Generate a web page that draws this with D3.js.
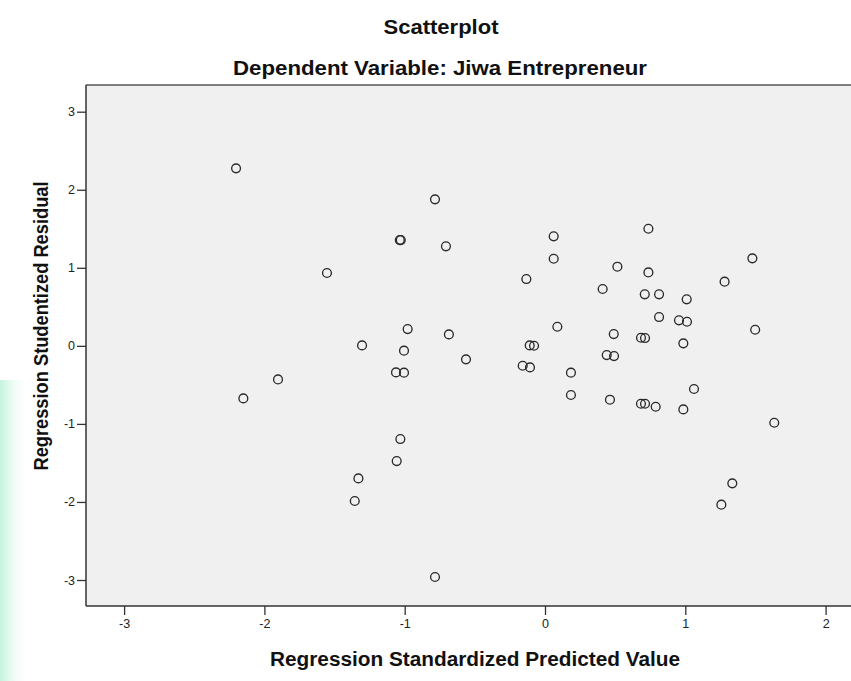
<!DOCTYPE html>
<html><head><meta charset="utf-8">
<script src="https://cdn.jsdelivr.net/npm/d3@7"></script>
<style>body{margin:0;background:#fff;}svg{display:block;font-family:"Liberation Sans",Arial,sans-serif;}</style>
</head><body>
<svg id="c" width="851" height="681"></svg>
<script>
const xValues = [-2.202,-0.784,-1.035,-1.028,-0.706,-1.554,-0.979,-0.685,-1.304,-1.005,-0.563,-1.062,-1.005,-1.903,
  -2.150,-1.031,-1.057,-1.330,-1.356,-0.784,
  0.062,0.737,0.062,1.478,0.516,0.737,-0.133,1.280,0.411,0.711,0.813,1.010,0.813,0.955,1.012,0.088,1.498,
  0.490,0.684,0.713,0.986,-0.109,-0.078,-0.159,-0.107,0.440,0.492,0.185,0.185,0.463,0.684,0.713,0.789,0.986,1.062,1.634,
  1.335,1.257];
const yValues = [2.274,1.877,1.355,1.355,1.275,0.933,0.215,0.147,0.006,-0.062,-0.173,-0.340,-0.344,-0.430,
  -0.673,-1.194,-1.476,-1.698,-1.988,-2.962,
  1.403,1.500,1.116,1.121,1.014,0.941,0.856,0.822,0.728,0.660,0.660,0.596,0.369,0.327,0.309,0.245,0.206,
  0.151,0.104,0.100,0.032,0.006,0.001,-0.255,-0.276,-0.118,-0.131,-0.344,-0.630,-0.690,-0.742,-0.742,-0.780,-0.814,-0.553,-0.985,
  -1.762,-2.035];
const xTicks = [-3,-2,-1,0,1,2];
const yTicks = [-3,-2,-1,0,1,2,3];
const title = "Scatterplot";
const subtitle = "Dependent Variable: Jiwa Entrepreneur";
const xTitle = "Regression Standardized Predicted Value";
const yTitle = "Regression Studentized Residual";

const svg = d3.select("#c");
const L = 86, T = 85, B = 606, R = 853;
const x = d3.scaleLinear().domain([-3, 2]).range([545 - 3*140.3, 545 + 2*140.3]);
const y = d3.scaleLinear().domain([-3, 3]).range([580, 111.7]);

const defs = svg.append("defs");
const grad = defs.append("linearGradient").attr("id","wm").attr("x1",0).attr("x2",1);
grad.append("stop").attr("offset","0%").attr("stop-color","#c4f3dc");
grad.append("stop").attr("offset","100%").attr("stop-color","#ffffff").attr("stop-opacity",0);
svg.append("rect").attr("x",0).attr("y",380).attr("width",30).attr("height",301).attr("fill","url(#wm)");

svg.append("rect").attr("x",L).attr("y",T).attr("width",R-L).attr("height",B-T).attr("fill","#f0f0f0");
svg.append("line").attr("x1",L).attr("x2",R).attr("y1",T).attr("y2",T).attr("stroke","#555").attr("stroke-width",1.5);

const fmt = d => String(d);
const gx = svg.append("g").attr("transform",`translate(0,${B})`)
  .call(d3.axisBottom(x).tickValues(xTicks).tickSize(9).tickPadding(4).tickFormat(fmt));
const gy = svg.append("g").attr("transform",`translate(${L},0)`)
  .call(d3.axisLeft(y).tickValues(yTicks).tickSize(9).tickPadding(2).tickFormat(fmt));
[gx,gy].forEach(g=>{
  g.select(".domain").remove();
  g.selectAll(".tick line").attr("stroke","#333").attr("stroke-width",1.3);
  g.selectAll(".tick text").attr("fill","#222").style("font-size","12.5px").style("font-family","'Liberation Sans',Arial,sans-serif");
});
svg.append("line").attr("x1",L).attr("x2",L).attr("y1",T).attr("y2",B).attr("stroke","#333").attr("stroke-width",1.5);
svg.append("line").attr("x1",L).attr("x2",R).attr("y1",B).attr("y2",B).attr("stroke","#333").attr("stroke-width",1.5);

svg.append("g").selectAll("circle").data(xValues.map((v,i)=>[v,yValues[i]])).join("circle")
  .attr("cx",d=>x(d[0])).attr("cy",d=>y(d[1])).attr("r",4.4)
  .attr("fill","none").attr("stroke","#2a2a2a").attr("stroke-width",1.35);

function label(txt, tx, ty, rot, len, size){
  svg.append("text").attr("transform",`translate(${tx},${ty}) rotate(${rot})`).attr("text-anchor","middle")
    .attr("textLength",len).attr("lengthAdjust","spacingAndGlyphs")
    .style("font-size",size+"px").style("font-weight","bold").attr("fill","#111").text(txt);
}
label(title, 441, 34, 0, 115, 20);
label(subtitle, 440, 75, 0, 414, 20);
label(xTitle, 475, 666, 0, 410, 20);
label(yTitle, 48, 326, -90, 289, 20);
</script>
</body></html>
